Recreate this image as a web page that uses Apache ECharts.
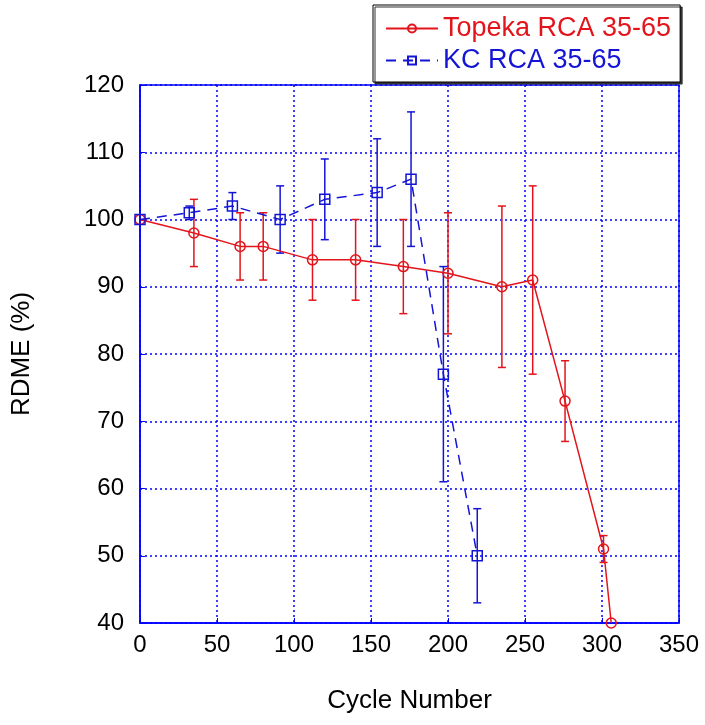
<!DOCTYPE html>
<html>
<head>
<meta charset="utf-8">
<script src="https://cdn.jsdelivr.net/npm/echarts@6/dist/echarts.min.js"></script>
<style>
  html, body { margin: 0; padding: 0; background: #fff; }
  #main { width: 705px; height: 725px; }
</style>
</head>
<body>
<div id="main"></div>
<script>
var topekaCycles = [0, 35, 65, 80, 112, 140, 171, 200, 235, 255, 276, 301, 306];
var topekaRdme = [100, 98, 96, 96, 94, 94, 93, 92, 90, 91, 73, 51, 40];
var topekaLow = [null, 93, 91, 91, 88, 88, 86, 83, 78, 77, 67, 49, null];
var topekaHigh = [null, 103, 101, 101, 100, 100, 100, 101, 102, 105, 79, 53, null];

var kcCycles = [0, 32, 60, 91, 120, 154, 176, 197, 219];
var kcRdme = [100, 101, 102, 100, 103, 104, 106, 77, 50];
var kcLow = [null, 100, 100, 95, 97, 96, 96, 61, 43];
var kcHigh = [null, 102, 104, 105, 109, 112, 116, 93, 57];

var red = '#e3141b';
var blue = '#1414d6';
var fontName = 'Arial, "Liberation Sans", sans-serif';

function pairs(xs, ys) {
    return xs.map(function (x, i) { return [x, ys[i]]; });
}
function bars(xs, lo, hi) {
    var out = [];
    for (var i = 0; i < xs.length; i++) {
        if (lo[i] != null) out.push([xs[i], lo[i], hi[i]]);
    }
    return out;
}

// error bars drawn through the axes' coord()
function errorBar(color) {
    return function (params, api) {
        var lo = api.coord([api.value(0), api.value(1)]);
        var hi = api.coord([api.value(0), api.value(2)]);
        var st = { stroke: color, lineWidth: 1.5 };
        var w = 4;
        return {
            type: 'group',
            children: [
                { type: 'line', shape: { x1: lo[0], y1: lo[1], x2: hi[0], y2: hi[1] }, style: st },
                { type: 'line', shape: { x1: lo[0] - w, y1: lo[1], x2: lo[0] + w, y2: lo[1] }, style: st },
                { type: 'line', shape: { x1: hi[0] - w, y1: hi[1], x2: hi[0] + w, y2: hi[1] }, style: st }
            ]
        };
    };
}

var myChart = echarts.init(document.getElementById('main'));
var option = {
    backgroundColor: '#fff',
    textStyle: { fontFamily: fontName },
    legend: {
        left: 373,
        top: 5,
        orient: 'vertical',
        padding: [10, 9, 8, 12],
        itemGap: 5,
        itemWidth: 52,
        itemHeight: 10,
        backgroundColor: '#fff',
        borderColor: '#000',
        borderWidth: 1,
        shadowColor: '#333',
        shadowOffsetX: 2,
        shadowOffsetY: 2,
        shadowBlur: 0,
        textStyle: { fontSize: 27, fontFamily: fontName },
        data: [
            { name: 'Topeka RCA 35-65', textStyle: { color: red } },
            { name: 'KC RCA 35-65', textStyle: { color: blue } }
        ]
    },
    grid: {
        left: 140,
        right: 26,
        top: 85,
        bottom: 102,
        show: true,
        borderColor: '#0000ff',
        borderWidth: 1.5
    },
    xAxis: {
        type: 'value',
        min: 0,
        max: 350,
        interval: 50,
        name: 'Cycle Number',
        nameLocation: 'middle',
        nameGap: 65,
        nameTextStyle: { fontSize: 26, color: '#000' },
        axisLine: { lineStyle: { color: '#0000ff', width: 1.5 } },
        axisTick: { inside: true, length: 5, lineStyle: { color: '#0000ff' } },
        axisLabel: { fontSize: 24, color: '#000', margin: 10 },
        splitLine: { lineStyle: { color: '#0000ff', type: [2, 3], width: 1.5 } }
    },
    yAxis: {
        type: 'value',
        min: 40,
        max: 120,
        interval: 10,
        name: 'RDME (%)',
        nameLocation: 'middle',
        nameGap: 105,
        nameTextStyle: { fontSize: 26, color: '#000' },
        axisLine: { lineStyle: { color: '#0000ff', width: 1.5 } },
        axisTick: { inside: true, length: 5, lineStyle: { color: '#0000ff' } },
        axisLabel: { fontSize: 24, color: '#000', margin: 16 },
        splitLine: { lineStyle: { color: '#0000ff', type: [2, 3], width: 1.5 } }
    },
    series: [
        {
            type: 'custom',
            renderItem: errorBar(red),
            data: bars(topekaCycles, topekaLow, topekaHigh),
            encode: { x: 0, y: [1, 2] },
            z: 2
        },
        {
            type: 'custom',
            renderItem: errorBar(blue),
            data: bars(kcCycles, kcLow, kcHigh),
            encode: { x: 0, y: [1, 2] },
            z: 2
        },
        {
            name: 'Topeka RCA 35-65',
            type: 'line',
            data: pairs(topekaCycles, topekaRdme),
            symbol: 'circle',
            symbolSize: 10,
            showAllSymbol: true,
            lineStyle: { color: red, width: 1.5 },
            itemStyle: { color: 'rgba(0,0,0,0)', borderColor: red, borderWidth: 1.5 },
            z: 3
        },
        {
            name: 'KC RCA 35-65',
            type: 'line',
            data: pairs(kcCycles, kcRdme),
            symbol: 'rect',
            symbolSize: 10,
            showAllSymbol: true,
            lineStyle: { color: blue, width: 1.5, type: [10, 7] },
            itemStyle: { color: 'rgba(0,0,0,0)', borderColor: blue, borderWidth: 1.5 },
            z: 3
        }
    ]
};
myChart.setOption(option);
</script>
</body>
</html>
